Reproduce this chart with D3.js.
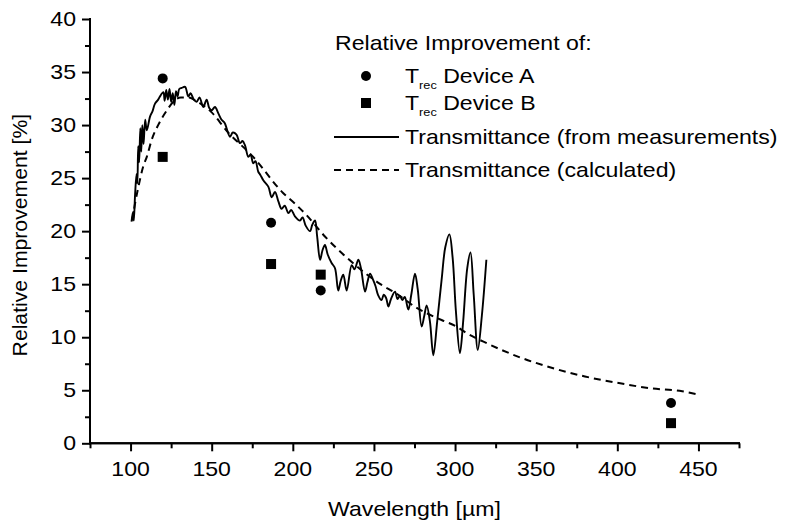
<!DOCTYPE html>
<html>
<head>
<meta charset="utf-8">
<script src="https://cdn.jsdelivr.net/npm/d3@7"></script>
<style>
  body { margin: 0; background: #fff; }
  text { font-family: "Liberation Sans", Arial, sans-serif; fill: #000; }
</style>
</head>
<body>
<div id="chart"></div>
<script>
// T_rec relative improvement, measured devices
const deviceA = [[119.8, 34.4], [186.6, 20.8], [217.2, 14.4], [433.1, 3.8]];
const deviceB = [[119.8, 27.0], [186.6, 16.9], [217.2, 15.9], [433.1, 1.9]];

// transmittance from measurements (wavelength, %)
const measured = [
  [100.6, 20.9], [101.5, 21.8], [102.0, 21.0], [102.8, 23.5], [103.7, 25.4],
  [104.2, 24.5], [104.7, 28.0], [105.3, 26.5], [106.0, 29.7], [106.6, 27.5],
  [107.2, 30.0], [108.0, 28.2], [109.0, 30.5], [110.0, 29.5], [112.0, 30.8],
  [113.5, 31.3], [115.0, 32.0], [117.0, 32.4], [118.1, 32.7], [120.2, 33.1],
  [121.0, 32.3], [122.0, 33.3], [123.0, 32.4], [124.0, 33.4], [125.0, 32.2],
  [126.0, 33.0], [127.0, 31.9], [128.0, 33.2], [129.0, 32.7], [130.0, 33.4],
  [131.5, 33.5], [133.6, 33.6], [135.6, 32.7], [137.0, 33.0], [139.0, 32.4],
  [140.7, 32.2], [142.5, 32.6], [144.8, 31.7], [146.9, 32.4], [148.5, 31.6],
  [150.0, 31.4], [152.0, 31.7], [154.1, 31.1], [156.1, 30.5], [158.0, 30.2],
  [159.2, 29.7], [161.3, 28.9], [163.0, 29.3], [165.3, 29.1], [167.4, 28.3],
  [169.0, 28.5], [170.5, 28.1], [172.6, 27.0], [174.0, 27.2], [175.6, 26.4],
  [177.0, 26.6], [178.7, 25.6], [180.0, 25.3], [181.8, 24.8], [184.9, 24.2],
  [187.0, 23.2], [189.0, 23.7], [191.1, 22.8], [193.1, 22.1], [195.0, 22.4],
  [197.3, 21.7], [199.0, 22.0], [201.3, 21.4], [204.4, 21.0], [206.0, 21.3],
  [208.0, 20.5], [210.6, 20.0], [212.0, 20.6], [213.7, 21.0], [215.0, 19.5],
  [216.8, 17.3], [218.3, 18.2], [219.8, 18.7], [221.5, 17.8], [223.9, 17.0],
  [226.0, 16.5], [228.0, 14.4], [229.5, 15.3], [231.1, 15.9], [233.2, 14.4],
  [236.3, 16.8], [238.0, 16.4], [240.4, 17.3], [242.0, 16.5], [244.5, 14.3],
  [246.0, 15.2], [247.6, 16.0], [249.5, 15.4], [251.0, 14.8], [252.5, 14.0],
  [254.7, 13.5], [256.0, 14.0], [257.5, 13.7], [258.9, 12.9], [260.5, 13.6],
  [263.0, 14.3], [264.5, 13.6], [266.0, 13.9], [267.5, 13.5], [269.0, 13.8],
  [271.2, 12.6], [273.0, 14.0], [275.3, 16.0], [277.0, 14.5], [279.4, 11.0],
  [281.0, 12.0], [282.5, 13.0], [284.5, 11.5], [286.6, 8.3], [289.0, 11.5],
  [291.7, 15.4], [294.0, 18.5], [296.5, 19.7], [298.5, 17.5], [300.5, 12.5],
  [303.0, 8.5], [305.0, 11.5], [307.5, 16.5], [309.5, 18.0], [311.5, 14.0],
  [314.0, 8.8], [316.5, 12.0], [319.3, 17.3]
];

// transmittance calculated
const calculated = [
  [101, 21.0], [103, 22.8], [105, 24.3], [108, 26.2], [110, 27.0],
  [113, 28.6], [117, 30.0], [122, 31.3], [127, 32.3], [131, 32.6],
  [136, 32.6], [140, 32.3], [150, 31.2], [159, 29.5], [175.6, 27.0],
  [194, 23.6], [202, 22.5], [208.5, 21.5], [219.8, 19.5], [234, 17.4],
  [254, 15.0], [264, 14.1], [276, 12.8], [292, 11.6], [301, 11.0],
  [307, 10.4], [320, 9.4], [340, 8.1], [360, 7.1], [380, 6.3],
  [400, 5.7], [420, 5.2], [440, 4.9], [450, 4.6]
];

const xTicks = [100, 150, 200, 250, 300, 350, 400, 450];
const xMinor = [75, 125, 175, 225, 275, 325, 375, 425, 475];
const yTicks = [0, 5, 10, 15, 20, 25, 30, 35, 40];
const yMinor = [2.5, 7.5, 12.5, 17.5, 22.5, 27.5, 32.5, 37.5];

const width = 785, height = 523;
const wide = "scale(1.155,1)";

const svg = d3.select("#chart").append("svg")
  .attr("width", width)
  .attr("height", height);

const x = d3.scaleLinear().domain([75, 475]).range([90, 739]);
const y = d3.scaleLinear().domain([0, 40]).range([443.3, 19]);

// axes
const xAxis = svg.append("g").attr("transform", `translate(0,${y(0)})`);
xAxis.call(d3.axisBottom(x).tickValues(xTicks).tickSize(8).tickSizeOuter(0).tickFormat(""));
xAxis.append("g").call(d3.axisBottom(x).tickValues(xMinor).tickSize(5).tickSizeOuter(0).tickFormat(""));
xAxis.selectAll("path, line").attr("stroke", "#000").attr("stroke-width", 2);

const yAxis = svg.append("g").attr("transform", `translate(${x(75)},0)`);
yAxis.call(d3.axisLeft(y).tickValues(yTicks).tickSize(8).tickSizeOuter(0).tickFormat(""));
yAxis.append("g").call(d3.axisLeft(y).tickValues(yMinor).tickSize(5).tickSizeOuter(0).tickFormat(""));
yAxis.selectAll("path, line").attr("stroke", "#000").attr("stroke-width", 2);
yAxis.selectAll(".domain").attr("d", `M0,${y(0) + 1}V${y(40) - 1}`);
xAxis.selectAll(".domain").attr("d", `M${x(75) - 1},0H${x(475) + 1}`);

// tick labels (drawn stretched like the original)
svg.append("g").selectAll("text")
  .data(xTicks)
  .join("text")
  .attr("transform", (d) => `translate(${x(d)},476) ${wide}`)
  .attr("text-anchor", "middle")
  .attr("font-size", 20)
  .text((d) => d);

svg.append("g").selectAll("text")
  .data(yTicks)
  .join("text")
  .attr("transform", (d) => `translate(76,${y(d) + 7}) ${wide}`)
  .attr("text-anchor", "end")
  .attr("font-size", 20)
  .text((d) => d);

// axis titles
svg.append("text")
  .attr("transform", `translate(${(x(75) + x(475)) / 2},516) ${wide}`)
  .attr("text-anchor", "middle")
  .attr("font-size", 20)
  .text("Wavelength [µm]");

svg.append("text")
  .attr("transform", `translate(27,${(y(0) + y(40)) / 2 + 4}) rotate(-90) scale(1.06,1)`)
  .attr("text-anchor", "middle")
  .attr("font-size", 20)
  .text("Relative Improvement [%]");

// curves
const line = d3.line().x((d) => x(d[0])).y((d) => y(d[1]));

svg.append("path")
  .datum(calculated)
  .attr("d", line.curve(d3.curveMonotoneX))
  .attr("fill", "none")
  .attr("stroke", "#000")
  .attr("stroke-width", 2)
  .attr("stroke-dasharray", "7,5");

svg.append("path")
  .datum(measured)
  .attr("d", line.curve(d3.curveCatmullRom.alpha(0.5)))
  .attr("fill", "none")
  .attr("stroke", "#000")
  .attr("stroke-width", 1.9);

// device points
svg.append("g").selectAll("circle")
  .data(deviceA)
  .join("circle")
  .attr("cx", (d) => x(d[0]))
  .attr("cy", (d) => y(d[1]))
  .attr("r", 5)
  .attr("fill", "#000");

svg.append("g").selectAll("rect")
  .data(deviceB)
  .join("rect")
  .attr("x", (d) => x(d[0]) - 5)
  .attr("y", (d) => y(d[1]) - 5)
  .attr("width", 10)
  .attr("height", 10)
  .attr("fill", "#000");

// legend
const legend = svg.append("g");

legend.append("text")
  .attr("transform", `translate(335,50) ${wide}`)
  .attr("font-size", 20)
  .text("Relative Improvement of:");

legend.append("circle").attr("cx", 366).attr("cy", 76).attr("r", 5).attr("fill", "#000");
legend.append("rect").attr("x", 361).attr("y", 98).attr("width", 10).attr("height", 10).attr("fill", "#000");

const devNames = ["Device A", "Device B"];
devNames.forEach((name, i) => {
  const t = legend.append("text")
    .attr("transform", `translate(405,${83 + i * 27}) ${wide}`)
    .attr("font-size", 20);
  t.append("tspan").text("T");
  t.append("tspan").attr("font-size", 11).attr("dy", 6).text("rec");
  t.append("tspan").attr("dy", -6).text(" " + name);
});

legend.append("line")
  .attr("x1", 334).attr("x2", 399).attr("y1", 137).attr("y2", 137)
  .attr("stroke", "#000").attr("stroke-width", 1.9);
legend.append("line")
  .attr("x1", 334).attr("x2", 399).attr("y1", 170).attr("y2", 170)
  .attr("stroke", "#000").attr("stroke-width", 2).attr("stroke-dasharray", "7,5");

legend.append("text")
  .attr("transform", `translate(405,144) ${wide}`)
  .attr("font-size", 20)
  .text("Transmittance (from measurements)");
legend.append("text")
  .attr("transform", `translate(405,177) ${wide}`)
  .attr("font-size", 20)
  .text("Transmittance (calculated)");
</script>
</body>
</html>
